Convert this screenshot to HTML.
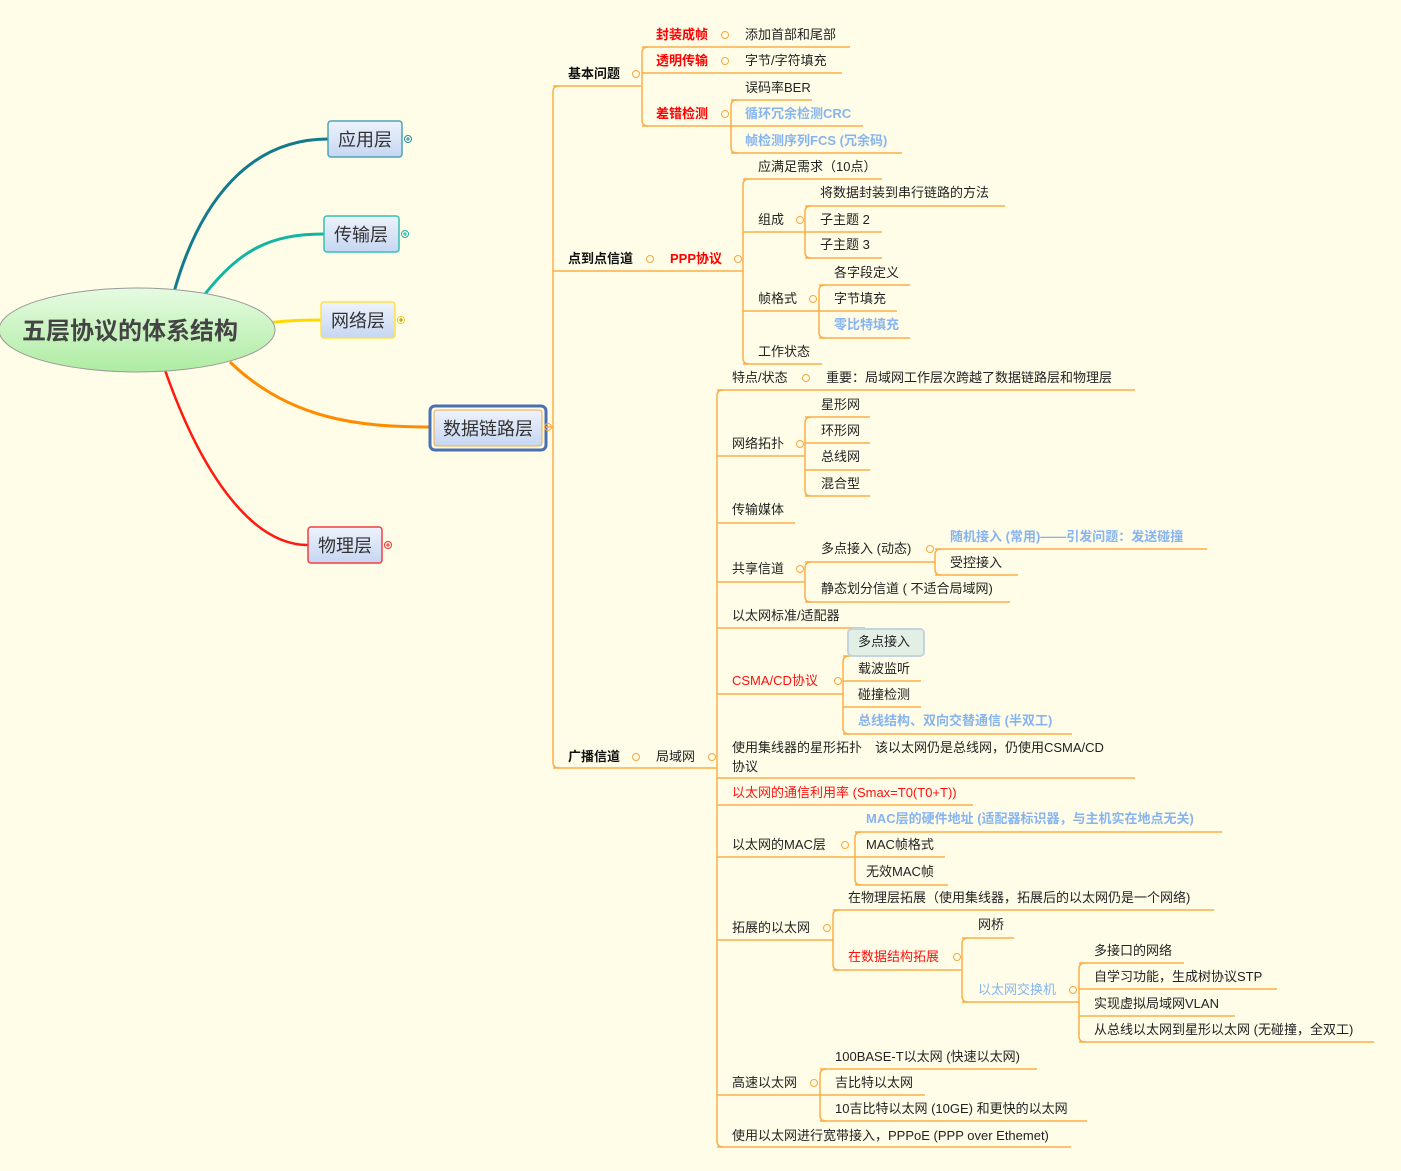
<!DOCTYPE html>
<html><head><meta charset="utf-8"><style>
html,body{margin:0;padding:0;background:#fffde8;}
svg{display:block}
text{font-family:"Liberation Sans","Noto Sans CJK SC",sans-serif;font-size:13px;fill:#222}
.r{fill:#ff0000;font-weight:bold}
.rn{fill:#ff1010}
.b{fill:#86b4f2;font-weight:bold}
.k{font-weight:bold;fill:#111}
.L{fill:none;stroke:#fbae47;stroke-width:1.5}
.c{fill:#fffde8;stroke:#f8a640;stroke-width:1}
.m{stroke:#a8b8e0;stroke-width:1}
.big{font-size:18px;fill:#333}
</style></head><body>
<svg width="1401" height="1171" viewBox="0 0 1401 1171" xmlns="http://www.w3.org/2000/svg">
<defs>
<linearGradient id="eg" x1="0" y1="0" x2="0" y2="1"><stop offset="0" stop-color="#e6fbe2"/><stop offset="1" stop-color="#aeeca2"/></linearGradient>
<linearGradient id="bg" x1="0" y1="0" x2="0" y2="1"><stop offset="0" stop-color="#eef3fc"/><stop offset="1" stop-color="#c6d6f2"/></linearGradient>
</defs>
<rect width="1401" height="1171" fill="#fffde8"/>
<!-- main curves -->
<path d="M174,292 C200,200 250,139 328,139" fill="none" stroke="#137a8e" stroke-width="3"/>
<path d="M205,294 C240,250 270,234 324,234" fill="none" stroke="#12b5a2" stroke-width="3"/>
<path d="M268,323 Q290,320 321,320" fill="none" stroke="#ffd800" stroke-width="3"/>
<path d="M230,362 C290,420 360,427 430,427" fill="none" stroke="#ff8c00" stroke-width="3"/>
<path d="M165,370 C200,470 250,545 308,545" fill="none" stroke="#ff1a10" stroke-width="2.5"/>
<ellipse cx="137" cy="330" rx="138" ry="42" fill="url(#eg)" stroke="#999" stroke-width="1"/>
<text x="22" y="339" style="font-size:24px;font-weight:bold;fill:#444">五层协议的体系结构</text>
<!-- boxes -->
<rect x="328" y="121" width="74" height="36" rx="3" fill="url(#bg)" stroke="#4aa3b4" stroke-width="1.5"/>
<text x="338" y="146" class="big">应用层</text>
<rect x="324" y="216" width="75" height="36" rx="3" fill="url(#bg)" stroke="#35c0b0" stroke-width="1.5"/>
<text x="334" y="241" class="big">传输层</text>
<rect x="321" y="302" width="74" height="36" rx="3" fill="url(#bg)" stroke="#ffe04a" stroke-width="1.5"/>
<text x="331" y="327" class="big">网络层</text>
<rect x="430" y="406" width="116" height="44" rx="5" fill="none" stroke="#4a6fb5" stroke-width="3"/>
<rect x="434" y="410" width="108" height="36" rx="3" fill="url(#bg)" stroke="#f8a640" stroke-width="1"/>
<text x="443" y="435" class="big">数据链路层</text>
<rect x="308" y="527" width="74" height="36" rx="3" fill="url(#bg)" stroke="#f04040" stroke-width="1.5"/>
<text x="318" y="552" class="big">物理层</text>
<g fill="none" stroke-width="1">
<circle cx="408" cy="139" r="3.5" stroke="#2a8ea0"/><path d="M406,139h4M408,137v4" stroke="#2a8ea0"/>
<circle cx="405" cy="234" r="3.5" stroke="#20b0a0"/><path d="M403,234h4M405,232v4" stroke="#20b0a0"/>
<circle cx="401" cy="320" r="3.5" stroke="#f0d020"/><path d="M399,320h4M401,318v4" stroke="#a09000"/>
<circle cx="388" cy="545" r="3.5" stroke="#f03030"/><path d="M386,545h4M388,543v4" stroke="#f03030"/>
<circle cx="548" cy="427" r="3.5" stroke="#f8a640"/>
</g>
<path class="L" d="M546,427H553"/>

<!-- brackets -->
<g class="L">
<path d="M559,86 Q553,86 553,92 V762 Q553,768 559,768"/>
<path d="M553,86H641 M553,271H743 M553,768H717"/>
<path d="M648,47 Q642,47 642,53 V120 Q642,126 648,126"/>
<path d="M642,47H850 M642,73H842 M642,126H731"/>
<path d="M737,100 Q731,100 731,106 V147 Q731,153 737,153"/>
<path d="M731,100H812 M731,126H863 M731,153H902"/>
<path d="M749,179 Q743,179 743,185 V358 Q743,364 749,364"/>
<path d="M743,179H882 M743,232H805 M743,311H819 M743,364H822"/>
<path d="M811,206 Q805,206 805,212 V252 Q805,258 811,258"/>
<path d="M805,206H1005 M805,232H882 M805,258H882"/>
<path d="M825,285 Q819,285 819,291 V332 Q819,338 825,338"/>
<path d="M819,285H910 M819,311H897 M819,338H910"/>
<path d="M723,390 Q717,390 717,396 V1141 Q717,1147 723,1147"/>
<path d="M717,390H1135 M717,456H805 M717,523H795 M717,582H805 M717,628H865 M717,694H843 M717,778H1135 M717,805H973 M717,857H855 M717,940H833 M717,1095H820 M717,1147H1071"/>
<path d="M811,417 Q805,417 805,423 V490 Q805,496 811,496"/>
<path d="M805,417H870 M805,443H870 M805,470H870 M805,496H870"/>
<path d="M811,562 Q805,562 805,568 V596 Q805,602 811,602"/>
<path d="M805,562H935 M805,602H1010"/>
<path d="M941,549 Q935,549 935,555 V569 Q935,575 941,575"/>
<path d="M935,549H1207 M935,575H1018"/>
<path d="M849,656 Q843,656 843,662 V728 Q843,734 849,734"/>
<path d="M843,656H921 M843,681H921 M843,707H921 M843,734H1072"/>
<path d="M861,832 Q855,832 855,838 V879 Q855,885 861,885"/>
<path d="M855,832H1222 M855,857H945 M855,885H948"/>
<path d="M839,910 Q833,910 833,916 V964 Q833,970 839,970"/>
<path d="M833,910H1214 M833,970H962"/>
<path d="M968,938 Q962,938 962,944 V996 Q962,1002 968,1002"/>
<path d="M962,938H1014 M962,1002H1079"/>
<path d="M1085,963 Q1079,963 1079,969 V1036 Q1079,1042 1085,1042"/>
<path d="M1079,963H1184 M1079,989H1277 M1079,1016H1235 M1079,1042H1374"/>
<path d="M826,1069 Q820,1069 820,1075 V1115 Q820,1121 826,1121"/>
<path d="M820,1069H1037 M820,1095H925 M820,1121H1087"/>
</g>
<rect x="848" y="629" width="76" height="27" rx="4" fill="#e2efe4" stroke="#c4d4dc" stroke-width="2"/>

<!-- collapse icons -->
<g>
<circle class="c" cx="636" cy="74" r="3.5"/><circle class="c" cx="725" cy="35" r="3.5"/><circle class="c" cx="725" cy="61" r="3.5"/><circle class="c" cx="725" cy="114" r="3.5"/>
<circle class="c" cx="650" cy="259" r="3.5"/><circle class="c" cx="738" cy="259" r="3.5"/><circle class="c" cx="800" cy="220" r="3.5"/><circle class="c" cx="813" cy="299" r="3.5"/>
<circle class="c" cx="636" cy="757" r="3.5"/><circle class="c" cx="712" cy="757" r="3.5"/><circle class="c" cx="806" cy="378" r="3.5"/><circle class="c" cx="800" cy="444" r="3.5"/>
<circle class="c" cx="800" cy="569" r="3.5"/><circle class="c" cx="930" cy="549" r="3.5"/><circle class="c" cx="838" cy="681" r="3.5"/><circle class="c" cx="845" cy="845" r="3.5"/>
<circle class="c" cx="827" cy="928" r="3.5"/><circle class="c" cx="957" cy="957" r="3.5"/><circle class="c" cx="1073" cy="990" r="3.5"/><circle class="c" cx="814" cy="1083" r="3.5"/>
</g>

<!-- texts -->
<text x="568" y="78" class="k">基本问题</text>
<text x="656" y="39" class="r">封装成帧</text><text x="745" y="39">添加首部和尾部</text>
<text x="656" y="65" class="r">透明传输</text><text x="745" y="65">字节/字符填充</text>
<text x="656" y="118" class="r">差错检测</text>
<text x="745" y="92">误码率BER</text>
<text x="745" y="118" class="b">循环冗余检测CRC</text>
<text x="745" y="145" class="b">帧检测序列FCS (冗余码)</text>
<text x="568" y="263" class="k">点到点信道</text><text x="670" y="263" class="r">PPP协议</text>
<text x="758" y="171">应满足需求（10点）</text>
<text x="758" y="224">组成</text>
<text x="820" y="197">将数据封装到串行链路的方法</text>
<text x="820" y="224">子主题 2</text>
<text x="820" y="249">子主题 3</text>
<text x="758" y="303">帧格式</text>
<text x="834" y="277">各字段定义</text>
<text x="834" y="303">字节填充</text>
<text x="834" y="329" class="b">零比特填充</text>
<text x="758" y="356">工作状态</text>
<text x="568" y="761" class="k">广播信道</text><text x="656" y="761">局域网</text>
<text x="732" y="382">特点/状态</text><text x="826" y="382">重要：局域网工作层次跨越了数据链路层和物理层</text>
<text x="732" y="448">网络拓扑</text>
<text x="821" y="409">星形网</text><text x="821" y="435">环形网</text><text x="821" y="461">总线网</text><text x="821" y="488">混合型</text>
<text x="732" y="514">传输媒体</text>
<text x="732" y="573">共享信道</text>
<text x="821" y="553">多点接入 (动态)</text>
<text x="950" y="541" class="b">随机接入 (常用)——引发问题：发送碰撞</text>
<text x="950" y="567">受控接入</text>
<text x="821" y="593">静态划分信道 ( 不适合局域网)</text>
<text x="732" y="620">以太网标准/适配器</text>
<text x="732" y="685" class="rn">CSMA/CD协议</text>
<text x="858" y="646">多点接入</text>
<text x="858" y="673">载波监听</text>
<text x="858" y="699">碰撞检测</text>
<text x="858" y="725" class="b">总线结构、双向交替通信 (半双工)</text>
<text x="732" y="752">使用集线器的星形拓扑　该以太网仍是总线网，仍使用CSMA/CD</text>
<text x="732" y="771">协议</text>
<text x="732" y="797" class="rn">以太网的通信利用率 (Smax=T0(T0+T))</text>
<text x="732" y="849">以太网的MAC层</text>
<text x="866" y="823" class="b">MAC层的硬件地址 (适配器标识器，与主机实在地点无关)</text>
<text x="866" y="849">MAC帧格式</text>
<text x="866" y="876">无效MAC帧</text>
<text x="732" y="932">拓展的以太网</text>
<text x="848" y="902">在物理层拓展（使用集线器，拓展后的以太网仍是一个网络)</text>
<text x="848" y="961" class="rn">在数据结构拓展</text>
<text x="978" y="929">网桥</text>
<text x="978" y="994" style="fill:#86b4f2">以太网交换机</text>
<text x="1094" y="955">多接口的网络</text>
<text x="1094" y="981">自学习功能，生成树协议STP</text>
<text x="1094" y="1008">实现虚拟局域网VLAN</text>
<text x="1094" y="1034">从总线以太网到星形以太网 (无碰撞，全双工)</text>
<text x="732" y="1087">高速以太网</text>
<text x="835" y="1061">100BASE-T以太网 (快速以太网)</text>
<text x="835" y="1087">吉比特以太网</text>
<text x="835" y="1113">10吉比特以太网 (10GE) 和更快的以太网</text>
<text x="732" y="1140">使用以太网进行宽带接入，PPPoE (PPP over Ethemet)</text>
</svg>
</body></html>
